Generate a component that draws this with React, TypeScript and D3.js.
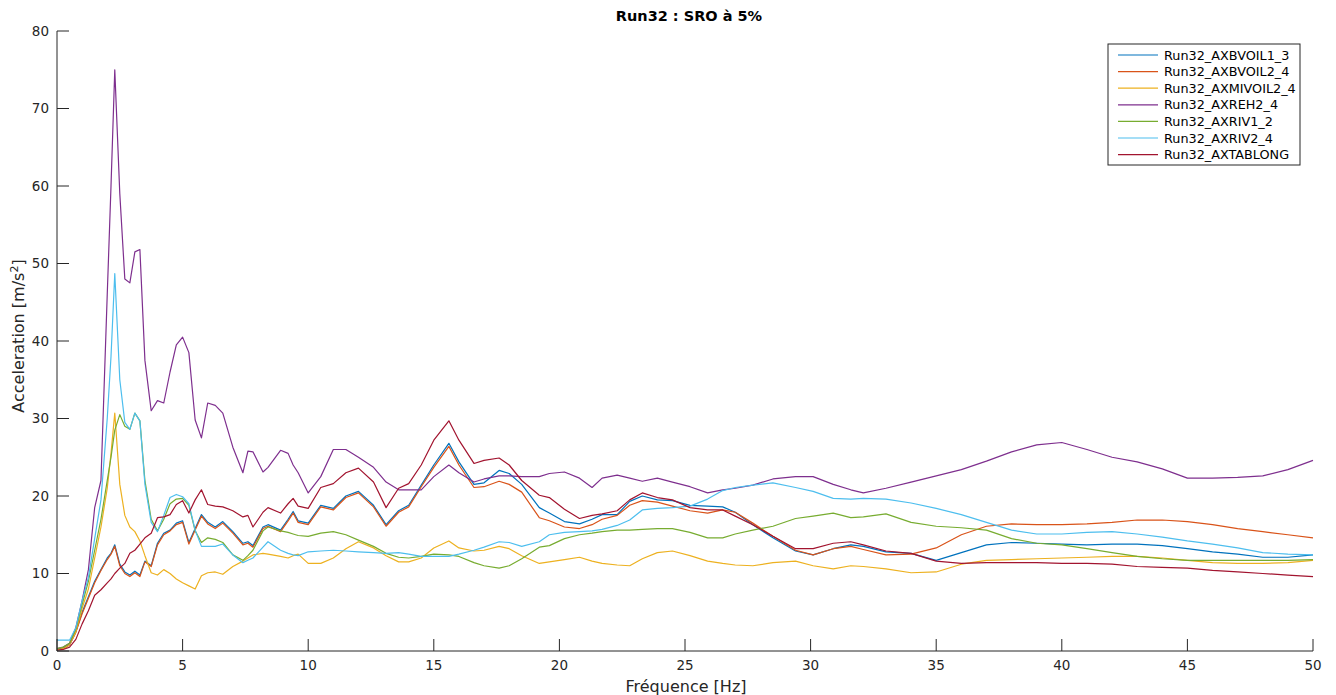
import React from "react";
import * as d3 from "d3";

const frequencies = [0,0.25,0.5,0.75,1,1.25,1.5,1.75,2,2.15,2.3,2.5,2.7,2.9,3.1,3.3,3.5,3.75,4,4.25,4.5,4.75,5,5.25,5.5,5.75,6,6.3,6.6,7,7.4,7.6,7.8,8.2,8.4,8.9,9.2,9.4,9.6,10,10.5,11,11.5,12,12.6,13.1,13.6,14,14.5,15,15.6,16,16.6,17,17.6,18,18.5,19.2,19.6,20.2,20.8,21.3,21.7,22.3,22.8,23.3,23.9,24.5,25.2,25.9,26.5,27,27.7,28.5,29.4,30.1,30.9,31.6,32.1,33,34,35,36,37,38,39,40,41,42,43,44,45,46,47,48,49,50];

const axbvoil1_3 = [0.2,0.3,0.8,2.5,5.0,7.0,9.0,10.5,12.0,12.6,13.7,11.2,10.2,9.8,10.3,9.8,11.6,11.0,13.9,15.2,15.6,16.5,16.8,14.0,15.8,17.6,16.6,16.0,16.7,15.4,13.9,14.1,13.6,16.0,16.3,15.6,17.0,18.0,16.8,16.5,18.8,18.4,20.0,20.6,18.8,16.3,18.1,18.8,21.4,24.0,26.8,24.4,21.5,21.7,23.3,22.9,21.5,18.5,17.8,16.7,16.4,17.0,17.6,17.6,19.3,20.0,19.5,19.4,18.8,18.7,18.6,17.9,16.3,14.6,12.9,12.4,13.2,13.7,13.5,12.8,12.6,11.7,12.7,13.7,14.0,13.9,13.8,13.7,13.8,13.8,13.6,13.2,12.8,12.5,12.1,12.1,12.4];
const axbvoil2_4 = [0.2,0.3,0.8,2.4,4.8,6.8,8.8,10.4,11.8,12.5,13.5,11.0,10.0,9.6,10.1,9.6,11.5,10.9,13.7,15.0,15.5,16.3,16.6,13.8,15.6,17.4,16.4,15.8,16.5,15.2,13.7,13.9,13.4,15.8,16.1,15.4,16.8,17.8,16.6,16.3,18.6,18.2,19.8,20.4,18.6,16.1,17.9,18.6,21.2,23.7,26.4,24.0,21.1,21.2,21.9,21.5,20.5,17.2,16.8,16.0,15.8,16.3,17.0,17.5,18.8,19.4,19.2,18.7,18.1,17.8,18.2,17.9,16.5,14.8,13.0,12.4,13.2,13.5,13.1,12.4,12.5,13.3,15.0,16.1,16.4,16.3,16.3,16.4,16.6,16.9,16.9,16.7,16.3,15.8,15.4,15.0,14.6];
const axmivoil2_4 = [0.2,0.3,0.8,2.5,5.5,8.0,12.0,16.0,21.0,25.5,30.7,21.5,17.5,16.0,15.4,14.2,12.3,10.1,9.8,10.5,10.0,9.3,8.8,8.4,8.0,9.7,10.1,10.2,9.9,10.9,11.6,12.0,12.4,12.6,12.5,12.2,12.0,12.3,12.5,11.3,11.3,12.0,13.2,14.1,13.3,12.3,11.5,11.5,12.0,13.3,14.2,13.3,12.9,13.0,13.5,13.2,12.3,11.3,11.5,11.8,12.1,11.6,11.3,11.1,11.0,11.9,12.7,12.9,12.3,11.6,11.3,11.1,11.0,11.4,11.6,11.0,10.6,11.0,10.9,10.6,10.1,10.2,11.2,11.7,11.8,11.9,12.0,12.1,12.2,12.2,12.0,11.7,11.4,11.3,11.3,11.4,11.7];
const axreh2_4 = [0.3,0.5,1.0,3.0,6.5,10.5,18.5,22.0,46.0,60.0,75.0,59.0,48.0,47.5,51.5,51.8,37.5,31.0,32.3,32.0,36.0,39.5,40.5,38.5,29.8,27.5,32.0,31.7,30.7,26.3,23.0,25.8,25.7,23.1,23.7,25.9,25.5,24.0,23.0,20.4,22.5,26.0,26.0,25.0,23.7,21.8,20.8,20.8,20.8,22.5,24.0,23.0,21.8,22.2,22.6,22.6,22.5,22.5,22.9,23.1,22.3,21.1,22.3,22.7,22.3,21.9,22.3,21.8,21.2,20.4,20.8,21.0,21.4,22.2,22.5,22.5,21.5,20.8,20.4,21.0,21.8,22.6,23.4,24.5,25.7,26.6,26.9,26.0,25.0,24.4,23.5,22.3,22.3,22.4,22.6,23.4,24.6];
const axriv1_2 = [0.3,0.5,1.0,2.8,6.0,9.0,13.0,17.0,22.0,25.0,28.5,30.5,29.0,28.6,30.7,29.7,22.0,17.0,15.5,17.0,19.0,19.6,19.7,18.8,15.5,14.0,14.6,14.4,14.0,12.4,11.7,12.3,13.0,15.5,16.0,15.5,15.3,15.1,14.9,14.8,15.2,15.4,15.0,14.3,13.5,12.6,12.1,12.0,12.2,12.5,12.4,12.2,11.4,11.0,10.7,11.0,11.9,13.4,13.6,14.5,15.0,15.2,15.4,15.6,15.6,15.7,15.8,15.8,15.3,14.6,14.6,15.1,15.6,16.1,17.1,17.4,17.8,17.2,17.3,17.7,16.6,16.1,15.9,15.6,14.5,13.9,13.7,13.2,12.7,12.2,11.9,11.7,11.7,11.7,11.7,11.7,11.8];
const axriv2_4 = [1.4,1.4,1.4,3.0,6.5,9.5,14.5,19.5,30.0,38.0,48.7,35.0,29.5,28.6,30.7,29.7,21.5,16.6,15.4,17.5,19.8,20.2,19.9,19.0,15.6,13.5,13.5,13.5,13.8,12.4,11.4,11.7,12.0,13.4,14.1,13.0,12.6,12.4,12.3,12.8,12.9,13.0,12.9,12.8,12.7,12.6,12.7,12.5,12.2,12.2,12.2,12.5,13.0,13.4,14.1,14.0,13.5,14.1,15.0,15.3,15.4,15.5,15.7,16.2,16.9,18.2,18.4,18.5,18.7,19.6,20.7,21.1,21.4,21.7,21.1,20.6,19.7,19.6,19.7,19.6,19.1,18.4,17.6,16.6,15.6,15.1,15.1,15.3,15.4,15.1,14.7,14.2,13.8,13.3,12.7,12.5,12.4];
const axtablong = [0.1,0.2,0.5,1.5,3.5,5.2,7.2,7.9,8.8,9.3,10.0,10.7,11.3,12.6,13.0,13.8,14.6,15.2,17.2,17.3,17.6,18.9,19.4,17.8,19.5,20.8,18.9,18.7,18.6,18.1,17.3,17.5,16.0,17.9,18.5,17.8,19.0,19.7,18.7,18.4,21.1,21.6,23.0,23.6,21.8,18.5,21.0,21.6,24.0,27.2,29.7,27.2,24.2,24.6,24.9,24.0,22.0,20.1,19.8,18.3,17.1,17.5,17.7,18.1,19.5,20.4,19.8,19.5,18.5,18.2,18.2,17.4,16.3,14.8,13.2,13.2,13.9,14.1,13.7,12.9,12.6,11.6,11.3,11.4,11.4,11.4,11.3,11.3,11.2,10.9,10.8,10.7,10.4,10.2,10.0,9.8,9.6];

const seriesNames = ["Run32_AXBVOIL1_3","Run32_AXBVOIL2_4","Run32_AXMIVOIL2_4","Run32_AXREH2_4","Run32_AXRIV1_2","Run32_AXRIV2_4","Run32_AXTABLONG"];
const seriesValues = [axbvoil1_3, axbvoil2_4, axmivoil2_4, axreh2_4, axriv1_2, axriv2_4, axtablong];
const seriesColors = ["#0072BD","#D95319","#EDB120","#7E2F8E","#77AC30","#4DBEEE","#A2142F"];

const xTicks = [0,5,10,15,20,25,30,35,40,45,50];
const yTicks = [0,10,20,30,40,50,60,70,80];

const FONT = "'DejaVu Sans', sans-serif";
const AXC = "#262626";

export default function App() {
  const W = 1336, H = 695;
  const x = d3.scaleLinear().domain([0, 50]).range([57, 1313]);
  const y = d3.scaleLinear().domain([0, 80]).range([651, 31]);
  const line = d3.line<number>().x((_, i) => x(frequencies[i])).y((d) => y(d));
  const tickLen = 12;
  const legX = 1108, legY = 44, legW = 192, legRow = 16.6;

  return (
    <svg width={W} height={H} style={{ position: "absolute", left: 0, top: 0, background: "#fff" }} fontFamily={FONT}>
      <rect x={0} y={0} width={W} height={H} fill="#fff" />
      <g>
        {seriesValues.map((vals, k) => (
          <path key={k} d={line(vals) || ""} fill="none" stroke={seriesColors[k]} strokeWidth={1.2} strokeLinejoin="round" />
        ))}
      </g>
      <line x1={x(0)} x2={x(50)} y1={y(0)} y2={y(0)} stroke={AXC} strokeWidth={1} />
      <line x1={x(0)} x2={x(0)} y1={y(0)} y2={y(80)} stroke={AXC} strokeWidth={1} />
      {xTicks.map((t) => (
        <g key={"x" + t}>
          <line x1={x(t)} x2={x(t)} y1={y(0)} y2={y(0) - tickLen} stroke={AXC} strokeWidth={1} />
          <text x={x(t)} y={y(0) + 19} textAnchor="middle" fontSize={13.5} fill={AXC}>{t}</text>
        </g>
      ))}
      {yTicks.map((t) => (
        <g key={"y" + t}>
          <line x1={x(0)} x2={x(0) + tickLen} y1={y(t)} y2={y(t)} stroke={AXC} strokeWidth={1} />
          <text x={x(0) - 8} y={y(t) + 4.5} textAnchor="end" fontSize={13.5} fill={AXC}>{t}</text>
        </g>
      ))}
      <text x={686} y={692} textAnchor="middle" fontSize={16} fill={AXC}>Fréquence [Hz]</text>
      <text transform={`translate(24, ${336}) rotate(-90)`} textAnchor="middle" fontSize={16} fill={AXC}>
        Acceleration [m/s<tspan dy={-6} fontSize={11}>2</tspan><tspan dy={6}>]</tspan>
      </text>
      <text x={689} y={21} textAnchor="middle" fontSize={14.5} fontWeight="bold" fill="#000">Run32 : SRO à 5%</text>
      <rect x={legX} y={legY} width={legW} height={121} fill="#fff" stroke={AXC} strokeWidth={1} />
      {seriesNames.map((n, k) => {
        const cy = legY + 11 + k * legRow;
        return (
          <g key={n}>
            <line x1={legX + 10} x2={legX + 50} y1={cy} y2={cy} stroke={seriesColors[k]} strokeWidth={1.2} />
            <text x={legX + 56} y={cy + 4.5} fontSize={12.8} fill="#000">{n}</text>
          </g>
        );
      })}
    </svg>
  );
}
